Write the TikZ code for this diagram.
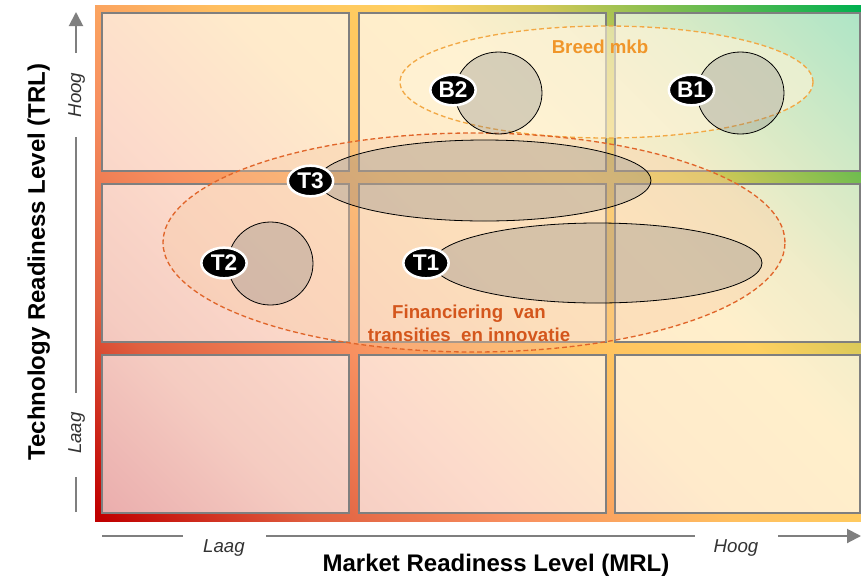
\documentclass[tikz,border=0pt]{standalone}
\usepackage{fontspec}
\setmainfont{Liberation Sans}
\usetikzlibrary{shapes.geometric,arrows.meta}
\definecolor{gR}{HTML}{C00000}
\definecolor{g1}{HTML}{E06040}
\definecolor{g2}{HTML}{F89060}
\definecolor{g3}{HTML}{FFC060}
\definecolor{g4}{HTML}{FFD060}
\definecolor{g5}{HTML}{D4C858}
\definecolor{g6}{HTML}{90C050}
\definecolor{gG}{HTML}{00B050}
\definecolor{cellgray}{HTML}{7F7F7F}
\definecolor{breedc}{HTML}{F0962A}
\definecolor{breedline}{HTML}{F2A844}
\definecolor{breedfill}{HTML}{FFF4D8}
\definecolor{finc}{HTML}{D4561C}
\definecolor{finline}{HTML}{E0652A}
\definecolor{finfill}{HTML}{F8C8A0}
\definecolor{axisgray}{HTML}{7F7F7F}
\definecolor{axtext}{HTML}{333333}
\pgfdeclarehorizontalshading{bgshade}{100bp}{color(0bp)=(gR); color(15bp)=(gR); color(26.6bp)=(g1); color(38bp)=(g2); color(50bp)=(g3); color(60.6bp)=(g4); color(67.7bp)=(g5); color(73.4bp)=(g6); color(85.4bp)=(gG); color(100bp)=(gG)}
\begin{document}
\begin{tikzpicture}[x=0.75pt,y=-0.75pt,
  cell/.style={rectangle, inner sep=0pt, fill=white, fill opacity=0.68, draw=cellgray, line width=1.1pt},
  greyell/.style={ellipse, inner sep=0pt, fill=cellgray, fill opacity=0.3, draw=black, line width=0.6pt},
  lab/.style={ellipse, inner sep=0pt, fill=black, draw=white, line width=1.9pt, text=white,
    font=\bfseries\fontsize{17}{18}\selectfont, minimum width=34pt, minimum height=23pt},
  axline/.style={draw=axisgray, line width=1.5pt},
  axarrow/.style={axline, -{Triangle[length=10.5pt,width=10.5pt]}},
  axlab/.style={font=\itshape\fontsize{14}{16}\selectfont, text=axtext, inner sep=0pt, anchor=base},
  axtitle/.style={font=\bfseries\fontsize{18}{20}\selectfont, text=black, inner sep=0pt, anchor=base}
]
\useasboundingbox (0,0) rectangle (861,576);
\shade[shading=bgshade, shading angle=45] (95,5) rectangle (861,521);

% grid cells
\node[cell, minimum width=247*0.75pt, minimum height=158*0.75pt] (c11) at (225.5,92) {};
\node[cell, minimum width=247*0.75pt, minimum height=158*0.75pt] (c12) at (482.5,92) {};
\node[cell, minimum width=245*0.75pt, minimum height=158*0.75pt] (c13) at (737.5,92) {};
\node[cell, minimum width=247*0.75pt, minimum height=158*0.75pt] (c21) at (225.5,263) {};
\node[cell, minimum width=247*0.75pt, minimum height=158*0.75pt] (c22) at (482.5,263) {};
\node[cell, minimum width=245*0.75pt, minimum height=158*0.75pt] (c23) at (737.5,263) {};
\node[cell, minimum width=247*0.75pt, minimum height=158*0.75pt] (c31) at (225.5,434) {};
\node[cell, minimum width=247*0.75pt, minimum height=158*0.75pt] (c32) at (482.5,434) {};
\node[cell, minimum width=245*0.75pt, minimum height=158*0.75pt] (c33) at (737.5,434) {};

% group ellipses
\node[ellipse, inner sep=0pt, fill=breedfill, fill opacity=0.6, draw=breedline, line width=1.0pt,
  dash pattern=on 3.6pt off 2.2pt, minimum width=413*0.75pt, minimum height=112*0.75pt] (breed) at (606.5,82) {};
\node[ellipse, inner sep=0pt, fill=finfill, fill opacity=0.35, draw=finline, line width=1.0pt,
  dash pattern=on 3.6pt off 2.2pt, minimum width=622*0.75pt, minimum height=219*0.75pt] (fin) at (474,242.5) {};

% grey ellipses
\node[greyell, minimum width=87*0.75pt, minimum height=82*0.75pt] (eB2) at (498.5,93) {};
\node[greyell, minimum width=87*0.75pt, minimum height=82*0.75pt] (eB1) at (740.5,93) {};
\node[greyell, minimum width=333*0.75pt, minimum height=81*0.75pt] (eT3) at (484.5,180.5) {};
\node[greyell, minimum width=85*0.75pt, minimum height=83*0.75pt] (eT2) at (270.5,263.5) {};
\node[greyell, minimum width=329*0.75pt, minimum height=80*0.75pt] (eT1) at (597.5,263) {};

% labels
\node[lab] (B2) at (453,90) {B2};
\node[lab] (B1) at (691.5,90) {B1};
\node[lab] (T3) at (310.5,181) {T3};
\node[lab] (T2) at (224,263) {T2};
\node[lab] (T1) at (426,263) {T1};

% group texts
\node[font=\bfseries\fontsize{14}{16}\selectfont, text=breedc, inner sep=0pt] (breedtxt) at (600,47) {Breed mkb};
\node[font=\bfseries\fontsize{14}{17.25}\selectfont, text=finc, inner sep=0pt, align=center] (fintxt) at (469,323.5)
  {Financiering~ van\\transities~ en innovatie};

% axis titles
\node[axtitle, rotate=90] (trl) at (45,262) {Technology Readiness Level (TRL)};
\node[axtitle] (mrl) at (496,571) {Market Readiness Level (MRL)};

% axis labels
\node[axlab, rotate=90] (yhoog) at (81,95) {Hoog};
\node[axlab, rotate=90] (ylaag) at (81,433) {Laag};
\node[axlab] (xlaag) at (224,552) {Laag};
\node[axlab] (xhoog) at (736,552) {Hoog};

% axis lines
\coordinate (ya) at (76,512);
\coordinate (yb) at (76,477);
\coordinate (yc) at (76,393);
\coordinate (yd) at (76,137);
\coordinate (ye) at (76,53);
\coordinate (yf) at (76,12);
\draw[axline] (ya) -- (yb);
\draw[axline] (yc) -- (yd);
\draw[axarrow] (ye) -- (yf);
\coordinate (xa) at (102,536);
\coordinate (xb) at (183,536);
\coordinate (xc) at (266,536);
\coordinate (xd) at (695,536);
\coordinate (xe) at (778,536);
\coordinate (xf) at (861,536);
\draw[axline] (xa) -- (xb);
\draw[axline] (xc) -- (xd);
\draw[axarrow] (xe) -- (xf);
\end{tikzpicture}
\end{document}
